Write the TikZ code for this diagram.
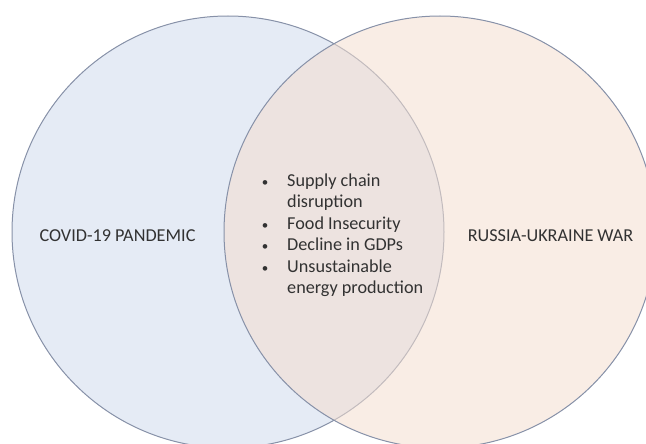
\documentclass[tikz,border=0pt]{standalone}
\usepackage{fontspec}
\setmainfont{Carlito}
\usepackage{tikz}
\definecolor{covidfill}{RGB}{229,235,245}
\definecolor{warfill}{RGB}{244,222,208}
\definecolor{ringline}{RGB}{135,145,168}
\definecolor{labeltext}{RGB}{50,50,50}
\newcommand{\listdot}{\makebox[8pt]{\fontsize{13}{13}\selectfont\textbullet}}

\begin{document}
\begin{tikzpicture}[x=1pt,y=-1pt,
    ring/.style={draw=ringline, line width=1pt},
    setlabel/.style={text=labeltext, font=\fontsize{18.2}{21.5}\selectfont, inner sep=0pt, anchor=base}]
        \useasboundingbox (0,0) rectangle (646,444);
        \clip (0,0) rectangle (646,444);

        \coordinate (CL) at (228,232);
        \coordinate (CR) at (440,232);
        \fill[covidfill] (CL) circle (216pt);
        \draw[ring] (CL) circle (216pt);
        \fill[warfill, fill opacity=0.55] (CR) circle (216pt);
        \draw[ring] (CR) circle (216pt);

        \node[setlabel] (covid) at (117.5,241) {COVID-19 PANDEMIC};
        \node[setlabel] (war) at (550.5,241) {RUSSIA-UKRAINE WAR};

        \node[setlabel, anchor=base west] (shared) at (261,186) {%
            \begin{tabular}[t]{@{}l@{\hspace{18pt}}l@{}}
            \listdot & Supply chain\\
                     & disruption\\
            \listdot & Food Insecurity\\
            \listdot & Decline in GDPs\\
            \listdot & Unsustainable\\
                     & energy production
            \end{tabular}};
    \end{tikzpicture}
\end{document}
